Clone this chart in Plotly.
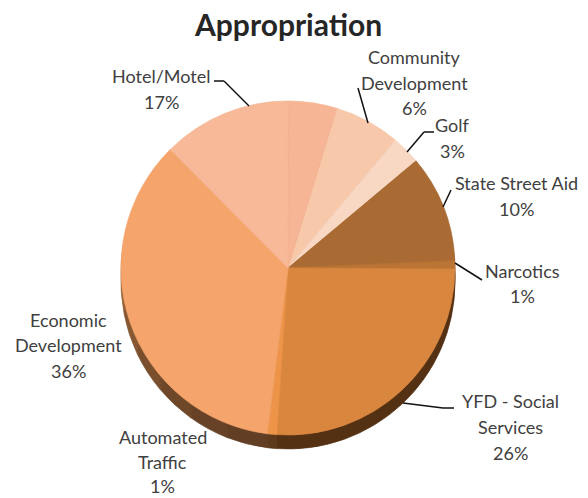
import plotly.graph_objects as go

W, H = 588, 498
CX, CY, R = 288, 268, 167
DEPTH_STEPS = [14, 10, 5]

# Slices clockwise from the first boundary. Hotel/Motel is drawn in two shades.
slice_names = ["Community Development", "Golf", "State Street Aid", "Narcotics",
               "YFD - Social Services", "Automated Traffic", "Economic Development",
               "Hotel/Motel", "Hotel/Motel"]
slice_values = [6.4, 2.8, 10.4, 0.8, 26.0, 0.9, 35.6, 12.5, 4.7]
slice_colors = ["#F8C8AB", "#F8D7C3", "#A96B33", "#BA7435", "#D9873F",
                "#EE9448", "#F5A46B", "#F7B997", "#F6B594"]

# The rim shares those values; Economic Development is split to shade it.
rim_values = [6.4, 2.8, 10.4, 0.8, 26.0, 0.9, 4.0, 4.0, 4.0, 4.0, 4.0, 4.0, 11.6, 17.2]
rim_colors = ["#7A4C24", "#7A4C24", "#7A4C24", "#6B4018", "#553114", "#5E3A1C",
              "#623F24", "#674226", "#6F4829", "#7A4F2D", "#875833", "#9A663B",
              "#A96F42", "#A96F42"]

ROTATION = 17
TEXT_COLOR = "#404040"

# text, centre x, centre y in pixels
label_lines = [
    ("Community", 415, 57), ("Development", 415, 83), ("6%", 415, 108),
    ("Golf", 452, 125), ("3%", 452, 151),
    ("State Street Aid", 516, 183), ("10%", 516, 209),
    ("Narcotics", 522, 271), ("1%", 522, 296),
    ("YFD - Social", 510, 401), ("Services", 510, 427), ("26%", 510, 453),
    ("Automated", 163, 437), ("Traffic", 163, 462), ("1%", 163, 486),
    ("Economic", 68, 320), ("Development", 68, 345), ("36%", 68, 371),
    ("Hotel/Motel", 161, 76), ("17%", 161, 102),
]

leaders = [
    [(214, 81), (224, 81), (249, 106)],
    [(358, 88), (368, 123)],
    [(434, 132), (424, 132), (407, 152)],
    [(451, 190), (443, 207)],
    [(455, 263), (482, 280)],
    [(403, 403), (443, 408), (454, 408)],
]


def px(x):
    return x / W


def py(y):
    return 1 - y / H


def pie(values, colors, cy):
    return go.Pie(
        values=values, sort=False, direction="clockwise", rotation=ROTATION,
        marker=dict(colors=colors, line=dict(width=0.7, color=colors)),
        textinfo="none", hoverinfo="skip", showlegend=False,
        domain=dict(x=[px(CX - R), px(CX + R)], y=[py(cy + R), py(cy - R)]),
    )


fig = go.Figure()
for d in DEPTH_STEPS:
    fig.add_trace(pie(rim_values, rim_colors, CY + d))
trace = pie(slice_values, slice_colors, CY)
trace.labels = [f"{n} {i}" for i, n in enumerate(slice_names)]
fig.add_trace(trace)

annotations = [dict(text="<b>Appropriation</b>", x=px(288), y=py(24), xref="paper", yref="paper",
                    showarrow=False, xanchor="center", yanchor="middle",
                    font=dict(family="Lato", size=30, color="#262626"))]
for text, x, y in label_lines:
    annotations.append(dict(text=text, x=px(x), y=py(y), xref="paper", yref="paper",
                            showarrow=False, xanchor="center", yanchor="middle",
                            font=dict(family="Lato", size=18, color=TEXT_COLOR)))

shapes = []
for pts in leaders:
    for (x0, y0), (x1, y1) in zip(pts, pts[1:]):
        shapes.append(dict(type="line", xref="paper", yref="paper",
                           x0=px(x0), y0=py(y0), x1=px(x1), y1=py(y1),
                           line=dict(color="#111111", width=1.5)))

fig.update_layout(width=W, height=H, margin=dict(l=0, r=0, t=0, b=0),
                  paper_bgcolor="white", plot_bgcolor="white",
                  annotations=annotations, shapes=shapes)
fig.write_html("out.html", config=dict(displayModeBar=False),
               post_script="document.body.style.margin='0';document.body.style.overflow='hidden';")
